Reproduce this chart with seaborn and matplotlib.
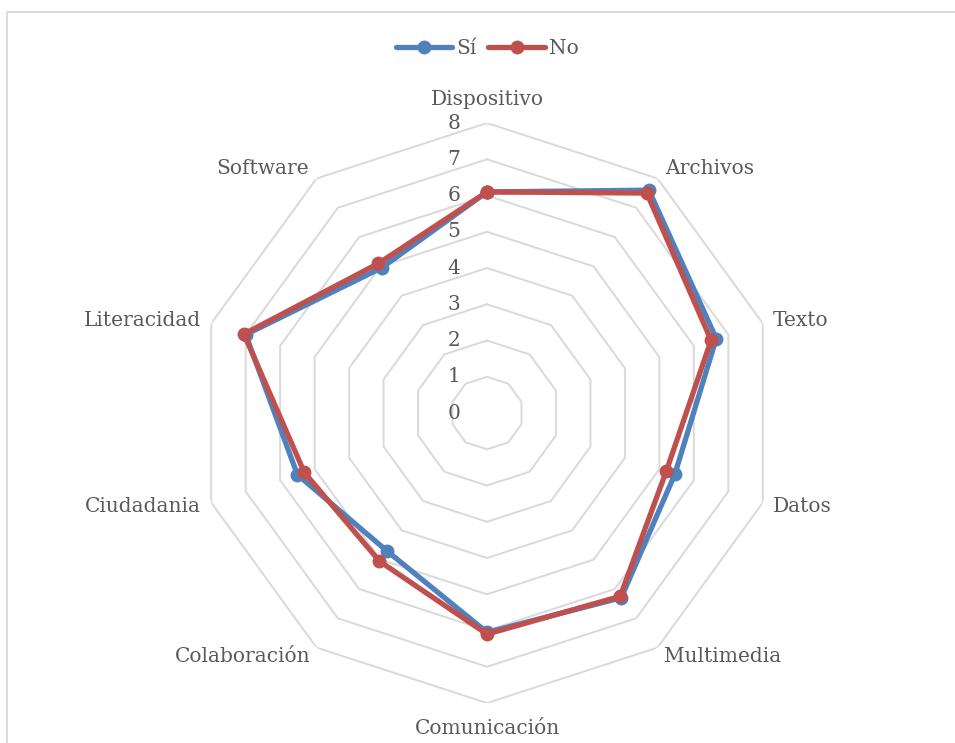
import numpy as np
import pandas as pd
import matplotlib
matplotlib.use("Agg")
import matplotlib.pyplot as plt
import matplotlib.transforms as mtransforms
from matplotlib.patches import Rectangle
import seaborn as sns

# -----------------------------------------------------------------------------
# Data
# -----------------------------------------------------------------------------
categories = ["Dispositivo", "Archivos", "Texto", "Datos", "Multimedia",
              "Comunicación", "Colaboración", "Ciudadania", "Literacidad", "Software"]
si_values = [6.1, 7.6, 6.65, 5.45, 6.3, 6.05, 4.7, 5.5, 7.0, 4.95]
no_values = [6.1, 7.5, 6.5, 5.2, 6.25, 6.1, 5.05, 5.3, 7.05, 5.1]
ring_ticks = [0, 1, 2, 3, 4, 5, 6, 7, 8]

# -----------------------------------------------------------------------------
# Style
# -----------------------------------------------------------------------------
sns.set_theme(style="white")
plt.rcParams["font.family"] = ["DejaVu Serif"]
text_color = "#595959"
grid_color = "#D9D9D9"
blue = "#4F81BD"
red = "#C0504D"
fs = 14.5

n = len(categories)
angles = np.linspace(0, 2 * np.pi, n, endpoint=False)

rows = []
for name, vals in [("Sí", si_values), ("No", no_values)]:
    for i in range(n + 1):
        rows.append({"serie": name, "theta": angles[i % n], "valor": vals[i % n], "orden": i})
df = pd.DataFrame(rows)

# -----------------------------------------------------------------------------
# Plot
# -----------------------------------------------------------------------------
fig = plt.figure(figsize=(9.55, 7.43), dpi=100)
ax = fig.add_axes([0.2063, 0.0538, 0.6073, 0.7806], projection="polar")
ax.set_theta_zero_location("N")
ax.set_theta_direction(-1)
ax.set_ylim(0, 8)
ax.grid(False)
ax.spines["polar"].set_visible(False)
ax.set_xticks([])
ax.set_yticks([])
ax.patch.set_alpha(0)

# polygon gridlines
closed = np.append(angles, angles[0])
for r in ring_ticks[1:]:
    ax.plot(closed, [r] * (n + 1), color=grid_color, lw=1.4, zorder=1)

sns.lineplot(
    data=df, x="theta", y="valor", hue="serie", palette={"Sí": blue, "No": red},
    sort=False, estimator=None, units="serie", marker="o", markersize=10,
    markeredgewidth=0, lw=3.8, ax=ax, legend=False, zorder=3,
)
ax.set_xlabel("")
ax.set_ylabel("")

# radial tick labels
offset = mtransforms.offset_copy(ax.transData, fig=fig, x=-27, y=0, units="dots")
for r in ring_ticks:
    ax.text(0, r, str(r), transform=offset, ha="right", va="center",
            fontsize=fs, color=text_color)

# category labels
align = [("center", "bottom", 8.4), ("left", "center", 8.35), ("left", "center", 8.3),
         ("left", "center", 8.3), ("left", "center", 8.3), ("center", "top", 8.45),
         ("right", "center", 8.3), ("right", "center", 8.3), ("right", "center", 8.3),
         ("right", "center", 8.35)]
for ang, lab, (ha, va, rr) in zip(angles, categories, align):
    ax.text(ang, rr, lab, ha=ha, va=va, fontsize=fs, color=text_color)

# legend
handles = [plt.Line2D([], [], color=blue, lw=3.8, marker="o", markersize=10, markeredgewidth=0),
           plt.Line2D([], [], color=red, lw=3.8, marker="o", markersize=10, markeredgewidth=0)]
leg = fig.legend(handles, ["Sí", "No"], loc="center", bbox_to_anchor=(0.51, 0.935),
                 ncol=2, frameon=False, fontsize=fs, handlelength=2.8,
                 handletextpad=0.2, columnspacing=0.6)
for t in leg.get_texts():
    t.set_color(text_color)

# chart border (right and bottom edges fall outside the image)
fig.patches.append(Rectangle((7 / 955, -0.1), 1.0, 0.1 + (743 - 12) / 743,
                             transform=fig.transFigure, fill=False,
                             edgecolor=grid_color, lw=1.3))

fig.savefig("out.png", dpi=100)
